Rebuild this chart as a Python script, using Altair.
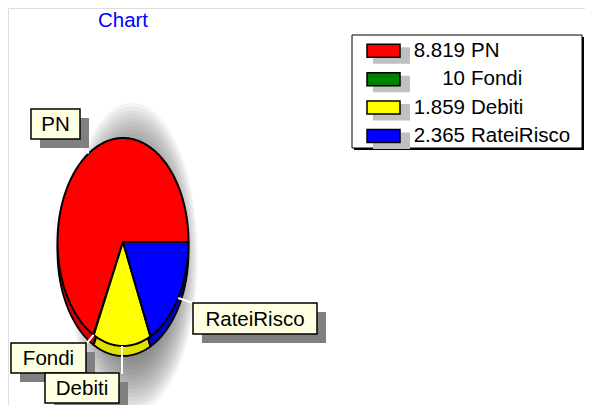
import altair as alt
import pandas as pd

# ---- data ----
NAMES = ["PN", "Fondi", "Debiti", "RateiRisco"]
VALUES = [8819, 10, 1859, 2365]
COLORS = ["#FF0000", "#008000", "#FFFF00", "#0000FF"]
RIM_COLORS = ["#D80000", "#006000", "#E2E200", "#0000D0"]
TITLE = "Chart"

# ---- layout / style constants ----
W, H = 577, 397
CX, CY, RX, RY = 115, 234, 65.5, 104
NPTS = 120
RIM = 10 / RY
HX, HY, HRX, HRY = 0.14, 0.15, 1.0, 1.49
RINGS = 16
RING_STEP = 0.025
FONT = "Liberation Sans"
FS = 20.5

df = pd.DataFrame({"name": NAMES, "value": VALUES, "idx": list(range(len(NAMES)))})

XS = alt.Scale(domain=[-1, 1], range=[CX - RX, CX + RX], zero=False, nice=False)
YS = alt.Scale(domain=[-1, 1], range=[CY - RY, CY + RY], zero=False, nice=False)


def X(f):
    return alt.X(f, type="quantitative", scale=XS, axis=None)


def Y(f):
    return alt.Y(f, type="quantitative", scale=YS, axis=None)


base = (
    alt.Chart(df)
    .transform_joinaggregate(total="sum(value)")
    .transform_window(
        cum="sum(value)",
        sort=[alt.SortField("idx", order="descending")],
        frame=[None, 0],
    )
    .transform_calculate(
        t0="2*PI*(datum.cum - datum.value)/datum.total",
        t1="2*PI*datum.cum/datum.total",
        tm="PI*(2*datum.cum - datum.value)/datum.total",
        num="replace(format(datum.value, ','), ',', '.')",
    )
)

pts = (
    base.transform_calculate(seq=f"sequence(0, {NPTS + 1})")
    .transform_flatten(["seq"], as_=["k"])
    .transform_calculate(t=f"datum.t0 + (datum.t1 - datum.t0) * (datum.k - 1) / {NPTS - 1}")
    .transform_calculate(
        px="datum.k == 0 ? 0 : cos(datum.t)",
        py="datum.k == 0 ? 0 : sin(datum.t)",
    )
    .transform_calculate(pyr=f"datum.py + {RIM}")
)

layers = []

# soft grey shadow behind the pie
halo = (
    alt.Chart(pd.DataFrame({"ring": list(range(RINGS))}))
    .transform_calculate(seq="sequence(0, 97)")
    .transform_flatten(["seq"], as_=["k"])
    .transform_calculate(s=f"1 - datum.ring * {RING_STEP}", a="2*PI*datum.k/96")
    .transform_calculate(
        px=f"{HX} + {HRX}*datum.s*cos(datum.a)",
        py=f"{HY} + {HRY}*datum.s*sin(datum.a)",
    )
    .mark_line(interpolate="linear-closed", strokeOpacity=0, strokeWidth=0)
    .encode(
        x=X("px"), y=Y("py"),
        fill=alt.value("#404040"), fillOpacity=alt.value(0.06),
        detail="ring:N", order="k:Q",
    )
)
layers.append(halo)

# side (thickness) of the pie
rim = pts.mark_line(interpolate="linear-closed", stroke="black", strokeWidth=1.8, strokeJoin="round").encode(
    x=X("px"), y=Y("pyr"),
    fill=alt.Fill("name:N", scale=alt.Scale(domain=NAMES, range=RIM_COLORS), legend=None),
    detail="name:N", order="k:Q",
)
layers.append(rim)

# top face of the pie
top = pts.mark_line(interpolate="linear-closed", stroke="black", strokeWidth=2, strokeJoin="round").encode(
    x=X("px"), y=Y("py"),
    fill=alt.Fill("name:N", scale=alt.Scale(domain=NAMES, range=COLORS), legend=None),
    detail="name:N", order="k:Q",
)
layers.append(top)

# leader lines
LEADER_END = {"PN": (72, 130), "Fondi": (79, 335), "Debiti": (114, 366), "RateiRisco": (185, 295)}
for n, (ex, ey) in LEADER_END.items():
    layers.append(
        base.transform_filter(f"datum.name == '{n}'")
        .transform_calculate(lx="cos(datum.tm)", ly="sin(datum.tm)")
        .mark_rule(color="white", strokeWidth=2)
        .encode(x=X("lx"), y=Y("ly"), x2=alt.value(ex), y2=alt.value(ey))
    )

# data labels
LABEL_BOX = {
    "PN": (23, 101, 72, 131),
    "RateiRisco": (185, 295, 309, 326),
    "Fondi": (3, 335, 78, 365),
    "Debiti": (37, 365, 111, 395),
}
SH = 9
for n in ["PN", "RateiRisco", "Fondi", "Debiti"]:
    x0, y0, x1, y1 = LABEL_BOX[n]
    sel = base.transform_filter(f"datum.name == '{n}'")
    layers.append(sel.mark_rect(color="#808080").encode(
        x=alt.value(x0 + SH), x2=alt.value(x1 + SH), y=alt.value(y0 + SH), y2=alt.value(y1 + SH)))
    layers.append(sel.mark_rect(fill="#FFFFE1", stroke="black", strokeWidth=1.5).encode(
        x=alt.value(x0), x2=alt.value(x1), y=alt.value(y0), y2=alt.value(y1)))
    layers.append(sel.mark_text(font=FONT, fontSize=FS, color="black", align="center", baseline="middle").encode(
        x=alt.value((x0 + x1) / 2), y=alt.value((y0 + y1) / 2 + 1), text="name:N"))

# legend
one = alt.Chart(pd.DataFrame({"title": [TITLE]}))
LX0, LY0, LX1, LY1 = 344, 27, 574, 140
layers.append(one.mark_rect(color="black").encode(
    x=alt.value(LX0 + 2), x2=alt.value(LX1 + 2), y=alt.value(LY0 + 2), y2=alt.value(LY1 + 2)))
layers.append(one.mark_rect(fill="white", stroke="black", strokeWidth=1).encode(
    x=alt.value(LX0), x2=alt.value(LX1), y=alt.value(LY0), y2=alt.value(LY1)))
ROWS = [42.8, 71.2, 99.6, 128]
SWX0, SWX1 = 359, 392
NUM_X, NAME_X = 457, 463
for n, c, ry in zip(NAMES, COLORS, ROWS):
    sel = base.transform_filter(f"datum.name == '{n}'")
    layers.append(sel.mark_rect(color="#C0C0C0").encode(
        x=alt.value(SWX0 + 6), x2=alt.value(SWX1 + 10), y=alt.value(ry - 3.5), y2=alt.value(ry + 13)))
    layers.append(sel.mark_rect(fill=c, stroke="black", strokeWidth=1.5).encode(
        x=alt.value(SWX0), x2=alt.value(SWX1), y=alt.value(ry - 6.5), y2=alt.value(ry + 6.5)))
    layers.append(sel.mark_text(font=FONT, fontSize=FS, color="black", align="right", baseline="middle").encode(
        x=alt.value(NUM_X), y=alt.value(ry), text="num:N"))
    layers.append(sel.mark_text(font=FONT, fontSize=FS, color="black", align="left", baseline="middle").encode(
        x=alt.value(NAME_X), y=alt.value(ry), text="name:N"))

# title
layers.append(one.mark_text(font=FONT, fontSize=FS, color="#0000FF", align="center", baseline="middle").encode(
    x=alt.value(115), y=alt.value(12.5), text="title:N"))

chart = (
    alt.layer(*layers)
    .properties(width=W, height=H, autosize="none", padding=0)
    .resolve_scale(fill="independent")
    .configure_view(stroke=None, strokeWidth=0)
    .configure(background="white")
)

chart.save("out.html", embed_options={"renderer": "svg", "actions": False})
